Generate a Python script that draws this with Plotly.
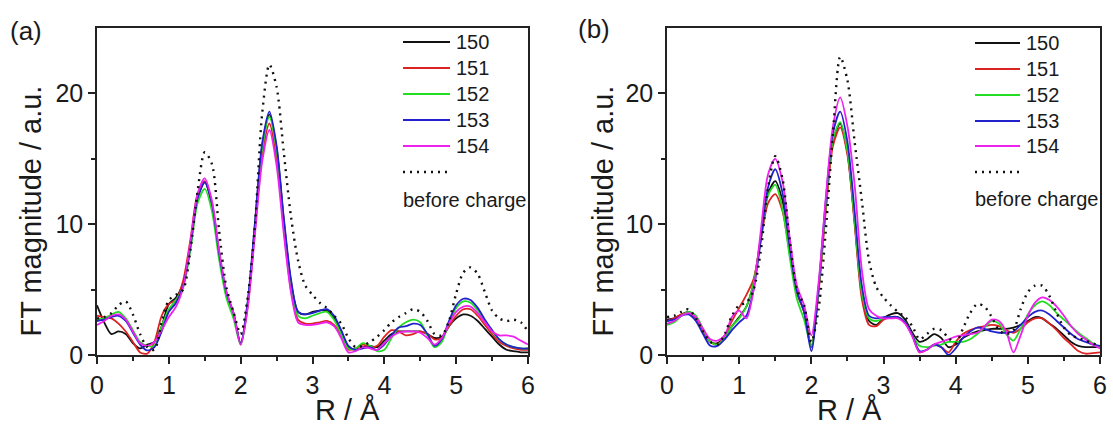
import plotly.graph_objects as go

W, H = 1113, 429

# R grid (Å)
R = [0.0, 0.1, 0.2, 0.3, 0.4, 0.5, 0.6, 0.7, 0.8, 0.9,
     1.0, 1.1, 1.2, 1.3, 1.4, 1.5, 1.6, 1.7, 1.8, 1.9,
     2.0, 2.1, 2.2, 2.3, 2.4, 2.5, 2.6, 2.7, 2.8, 2.9,
     3.0, 3.1, 3.2, 3.3, 3.4, 3.5, 3.6, 3.7, 3.8, 3.9,
     4.0, 4.1, 4.2, 4.3, 4.4, 4.5, 4.6, 4.7, 4.8, 4.9,
     5.0, 5.1, 5.2, 5.3, 5.4, 5.5, 5.6, 5.7, 5.8, 5.9, 6.0]

LABELS = ["150", "151", "152", "153", "154"]
COLORS = ["#111111", "#dd2222", "#22dd22", "#2222cc", "#ee22ee"]

# ---- panel (a) ----
A_150 = [3.8, 2.5, 1.6, 1.8, 1.6, 0.9, 0.5, 0.8, 1.0, 2.2,
         3.9, 4.4, 5.5, 8.3, 12.0, 13.2, 11.5, 7.8, 4.8, 3.2,
         0.9, 4.0, 10.0, 16.0, 18.4, 15.8, 10.3, 5.6, 3.3, 3.1,
         3.3, 3.4, 3.4, 2.8, 1.8, 0.6, 0.4, 0.6, 0.7, 0.6,
         1.1, 1.6, 1.8, 1.8, 1.8, 1.8, 1.6, 1.3, 1.4, 2.2,
         2.8, 3.1, 3.0, 2.6, 2.0, 1.4, 0.8, 0.4, 0.3, 0.2, 0.2]
A_151 = [3.0, 2.9, 2.8, 2.4, 1.8, 1.0, 0.2, 0.1, 1.0, 3.0,
         3.9, 4.2, 5.7, 8.8, 12.3, 13.3, 11.6, 7.8, 4.6, 3.2,
         0.8, 3.8, 9.6, 15.3, 17.7, 15.0, 9.7, 5.0, 2.7, 2.4,
         2.4, 2.5, 2.6, 2.3, 1.5, 0.4, 0.5, 0.8, 0.6, 0.7,
         1.4, 1.9, 1.8, 1.5, 1.6, 1.8, 1.6, 1.2, 1.3, 2.2,
         3.0, 3.5, 3.5, 3.0, 2.3, 1.6, 1.0, 0.7, 0.5, 0.4, 0.4]
A_152 = [2.7, 2.8, 3.1, 3.3, 2.8, 1.9, 1.0, 0.7, 0.7, 2.2,
         3.5, 4.2, 5.2, 8.0, 11.6, 12.7, 11.0, 7.3, 4.4, 2.8,
         0.8, 4.0, 9.9, 15.8, 18.2, 15.7, 10.2, 5.5, 3.0, 2.8,
         3.0, 3.2, 3.3, 2.7, 1.6, 0.5, 0.5, 0.9, 0.7, 0.3,
         0.4, 1.3, 2.1, 2.5, 2.7, 2.5, 1.5, 0.6, 1.0, 2.5,
         3.6, 4.1, 4.0, 3.4, 2.6, 1.8, 1.2, 0.8, 0.6, 0.5, 0.5]
A_153 = [2.6, 2.7, 2.9, 3.0, 2.6, 1.7, 0.8, 0.35, 0.6, 1.8,
         3.3, 4.0, 5.3, 8.3, 12.0, 13.2, 11.6, 7.8, 4.8, 3.2,
         0.9, 4.2, 10.2, 16.2, 18.6, 16.0, 10.5, 5.8, 3.3, 3.1,
         3.2, 3.4, 3.5, 3.0, 1.9, 0.7, 0.4, 0.5, 0.6, 0.4,
         0.8, 1.5, 2.1, 2.2, 2.4, 2.3, 1.6, 0.7, 1.2, 2.6,
         3.8, 4.3, 4.2, 3.6, 2.7, 1.9, 1.2, 0.8, 0.6, 0.5, 0.5]
A_154 = [2.3, 2.6, 3.0, 3.1, 2.7, 1.8, 0.9, 0.7, 1.0, 1.9,
         2.9, 3.7, 5.2, 8.6, 12.3, 13.5, 11.8, 8.0, 4.9, 3.2,
         0.8, 3.7, 9.3, 14.8, 17.2, 14.5, 9.3, 4.8, 2.5, 2.3,
         2.3, 2.4, 2.5, 2.2, 1.3, 0.2, 0.3, 0.6, 0.5, 0.4,
         0.9, 1.4, 1.7, 1.8, 1.8, 1.7, 1.3, 0.8, 1.3, 2.4,
         3.3, 3.7, 3.7, 3.2, 2.5, 1.8, 1.5, 1.5, 1.4, 1.1, 0.8]
A_before = [2.8, 2.9, 3.2, 3.8, 4.1, 3.1, 1.6, 0.6, 0.4, 2.5,
            4.2, 4.6, 5.0, 8.0, 12.5, 15.5, 14.6, 9.5, 5.2, 3.3,
            1.6, 4.5, 10.0, 18.5, 22.2, 20.5, 15.5, 10.6, 7.2, 5.3,
            4.6, 4.0, 3.6, 3.0, 2.4, 1.3, 0.6, 0.7, 1.0, 1.4,
            1.9, 2.5, 2.9, 3.2, 3.5, 3.3, 2.6, 1.6, 1.5, 2.6,
            4.7, 6.3, 6.7, 6.2, 4.8, 3.4, 2.8, 2.6, 2.7, 2.5, 1.8]

# ---- panel (b) ----
B_150 = [2.7, 2.8, 3.1, 3.3, 2.9, 1.9, 1.0, 0.9, 1.4, 2.2,
         2.9, 3.7, 5.5, 9.0, 12.3, 13.3, 11.8, 8.0, 4.8, 3.3,
         0.6, 5.0, 11.3, 16.4, 17.7, 15.5, 10.2, 4.7, 2.6, 2.3,
         2.8, 3.1, 3.2, 2.7, 1.7, 1.0, 1.2, 1.6, 1.3, 0.6,
         0.8, 1.3, 1.6, 1.8, 1.9, 2.0, 2.0, 2.0, 2.1, 2.3,
         2.6, 2.9, 2.8, 2.4, 2.0, 1.5, 1.0, 0.7, 0.6, 0.6, 0.6]
B_151 = [2.6, 2.8, 3.1, 3.2, 2.8, 1.9, 1.0, 0.8, 1.5, 2.6,
         3.6, 4.6, 5.8, 8.8, 11.6, 12.3, 11.0, 7.8, 4.8, 3.3,
         0.7, 4.8, 11.0, 16.0, 17.4, 15.3, 10.0, 4.3, 2.3, 2.2,
         2.7, 2.9, 2.9, 2.5, 1.5, 0.2, 0.4, 0.8, 0.6, 0.2,
         1.0, 1.6, 1.9, 2.1, 2.2, 2.3, 2.2, 1.9, 1.7, 2.0,
         2.5, 2.8, 2.8, 2.4, 1.9, 1.3, 0.8, 0.3, 0.1, 0.15, 0.2]
B_152 = [2.3, 2.5, 3.0, 3.3, 3.0, 2.0, 1.0, 0.8, 1.3, 2.2,
         2.8, 3.7, 5.5, 8.8, 12.2, 13.0, 11.2, 7.5, 4.3, 2.7,
         0.7, 5.0, 11.4, 16.5, 17.8, 15.6, 10.3, 4.8, 2.8, 2.6,
         2.8, 2.9, 2.9, 2.5, 1.5, 0.7, 0.6, 0.7, 0.8, 1.0,
         1.0, 1.0, 1.2, 1.6, 2.1, 2.6, 2.4, 1.6, 1.1, 2.0,
         3.1, 3.8, 4.1, 3.8, 3.2, 2.7, 2.2, 1.7, 1.3, 0.9, 0.6]
B_153 = [2.6, 2.7, 3.0, 3.1, 2.6, 1.6, 0.7, 0.7, 1.2, 1.9,
         2.5, 3.0, 5.0, 8.8, 12.8, 14.2, 12.4, 8.3, 4.9, 3.3,
         0.3, 5.2, 11.8, 17.0, 18.6, 16.3, 11.0, 5.3, 3.0, 2.8,
         2.9, 2.9, 2.9, 2.5, 1.5, 0.3, 0.4, 0.8, 0.6, 0.0,
         0.5, 1.3, 1.8, 2.1, 2.0, 1.8, 1.7, 1.7, 1.8, 2.3,
         2.9, 3.3, 3.4, 3.1, 2.6, 2.1, 1.6, 1.2, 1.0, 0.8, 0.7]
B_154 = [2.4, 2.6, 3.0, 3.2, 2.9, 2.0, 1.2, 1.1, 1.5, 2.9,
         3.4, 2.8, 5.0, 9.5, 13.8, 15.0, 13.3, 9.0, 5.3, 3.8,
         1.5, 5.5, 12.0, 17.5, 19.7, 17.5, 13.0, 6.5, 3.5, 3.0,
         2.8, 2.8, 2.8, 2.4, 1.4, 0.2, 0.4, 0.8, 1.0, 1.2,
         1.4, 1.5, 1.6, 1.7, 2.2, 2.7, 2.6, 1.8, 0.2, 1.5,
         3.0, 4.0, 4.4, 4.2, 3.7, 3.0, 2.2, 1.6, 1.2, 0.8, 0.5]
B_before = [2.9, 3.0, 3.3, 3.5, 2.8, 1.8, 1.0, 0.8, 1.6, 3.0,
            3.8, 4.0, 5.0, 8.0, 12.8, 15.2, 13.5, 8.8, 5.0, 3.8,
            1.0, 3.5, 9.5, 17.0, 22.8, 21.0, 16.3, 11.8, 7.2, 5.2,
            4.4, 3.8, 3.3, 2.9, 2.2, 1.2, 1.6, 2.0, 1.9, 1.3,
            0.9, 2.0, 3.2, 3.9, 3.7, 2.9, 1.9, 1.6, 1.9, 3.5,
            4.8, 5.3, 5.3, 4.5, 3.2, 2.1, 1.5, 1.3, 1.1, 0.9, 0.7]

PANEL_A = [A_150, A_151, A_152, A_153, A_154]
PANEL_B = [B_150, B_151, B_152, B_153, B_154]

FONT = "Liberation Sans, Arial, sans-serif"
TXT = "#1a1a1a"

fig = go.Figure()

def add_panel(series, before, xa, ya):
    for name, col, ys in zip(LABELS, COLORS, series):
        fig.add_trace(go.Scatter(x=R, y=ys, mode="lines", name=name,
                                 line=dict(color=col, width=1.8, shape="spline", smoothing=0.8),
                                 xaxis=xa, yaxis=ya, showlegend=False))
    fig.add_trace(go.Scatter(x=R, y=before, mode="lines", name="before charge",
                             line=dict(color="#111111", width=2.4, dash="2px,5px",
                                       shape="spline", smoothing=0.8),
                             xaxis=xa, yaxis=ya, showlegend=False))

add_panel(PANEL_A, A_before, "x", "y")
add_panel(PANEL_B, B_before, "x2", "y2")

# panel geometry in pixels
PA = (97, 528)
PB = (667, 1100)
TOP, BOT = 28, 355

def px(x):
    return x / W

def py(y):
    return 1 - y / H

axis_common = dict(
    showline=True, linecolor="#222222", linewidth=1.5, mirror=True,
    ticks="outside", tickcolor="#222222", tickwidth=1.5, ticklen=7,
    showgrid=False, zeroline=False, automargin=False,
    tickfont=dict(family=FONT, size=25, color=TXT),
)

xaxis_common = dict(axis_common, range=[0, 6], tickvals=[0, 1, 2, 3, 4, 5, 6],
                    minor=dict(tickvals=[0.5, 1.5, 2.5, 3.5, 4.5, 5.5], ticks="outside",
                               ticklen=4, tickwidth=1.5, tickcolor="#222222"))
yaxis_common = dict(axis_common, range=[0, 25], tickvals=[0, 10, 20],
                    minor=dict(tickvals=[5, 15], ticks="outside",
                               ticklen=4, tickwidth=1.5, tickcolor="#222222"))

fig.update_layout(
    width=W, height=H,
    margin=dict(l=0, r=0, t=0, b=0, autoexpand=False),
    paper_bgcolor="white", plot_bgcolor="white",
    showlegend=False,
    xaxis=dict(xaxis_common, domain=[px(PA[0]), px(PA[1])], anchor="y"),
    yaxis=dict(yaxis_common, domain=[py(BOT), py(TOP)], anchor="x"),
    xaxis2=dict(xaxis_common, domain=[px(PB[0]), px(PB[1])], anchor="y2"),
    yaxis2=dict(yaxis_common, domain=[py(BOT), py(TOP)], anchor="x2"),
)

annotations = []
shapes = []

def add_decor(p, lx0, lx1, rows, ylab_x):
    x0, x1 = p
    cx = (x0 + x1) / 2
    annotations.append(dict(x=px(cx), y=py(410), xref="paper", yref="paper",
                            text="R / Å", showarrow=False, yanchor="middle",
                            font=dict(family=FONT, size=29, color=TXT)))
    annotations.append(dict(x=px(ylab_x), y=py((TOP + BOT) / 2 + 20), xref="paper", yref="paper",
                            text="FT magnitude / a.u.", textangle=-90, showarrow=False,
                            xanchor="center", yanchor="middle",
                            font=dict(family=FONT, size=29, color=TXT)))
    for i, (lab, col) in enumerate(zip(LABELS, COLORS)):
        yy = rows[i]
        shapes.append(dict(type="line", xref="paper", yref="paper",
                           x0=px(lx0), x1=px(lx1), y0=py(yy), y1=py(yy),
                           line=dict(color=col, width=1.8)))
        annotations.append(dict(x=px(lx1 + 4), y=py(yy), xref="paper", yref="paper",
                                text=lab, showarrow=False, xanchor="left", yanchor="middle",
                                font=dict(family=FONT, size=20, color=TXT)))
    shapes.append(dict(type="line", xref="paper", yref="paper",
                       x0=px(lx0), x1=px(lx1), y0=py(rows[5]), y1=py(rows[5]),
                       line=dict(color="#111111", width=2.4, dash="2px,5px")))
    annotations.append(dict(x=px(lx0 - 2), y=py(rows[6]), xref="paper", yref="paper",
                            text="before charge", showarrow=False, xanchor="left",
                            yanchor="middle", font=dict(family=FONT, size=20, color=TXT)))

rows_a = [42, 68, 94, 120, 146, 172, 200]
rows_b = [43, 69, 95, 121, 146, 172, 199]
add_decor(PA, 403, 450, rows_a, 30)
add_decor(PB, 975, 1020, rows_b, 602)

annotations.append(dict(x=px(8), y=py(31), xref="paper", yref="paper", text="(a)",
                        showarrow=False, xanchor="left", yanchor="middle",
                        font=dict(family=FONT, size=26, color=TXT)))
annotations.append(dict(x=px(576), y=py(29), xref="paper", yref="paper", text="(b)",
                        showarrow=False, xanchor="left", yanchor="middle",
                        font=dict(family=FONT, size=26, color=TXT)))

fig.update_layout(annotations=annotations, shapes=shapes)

fig.write_html("out.html")
